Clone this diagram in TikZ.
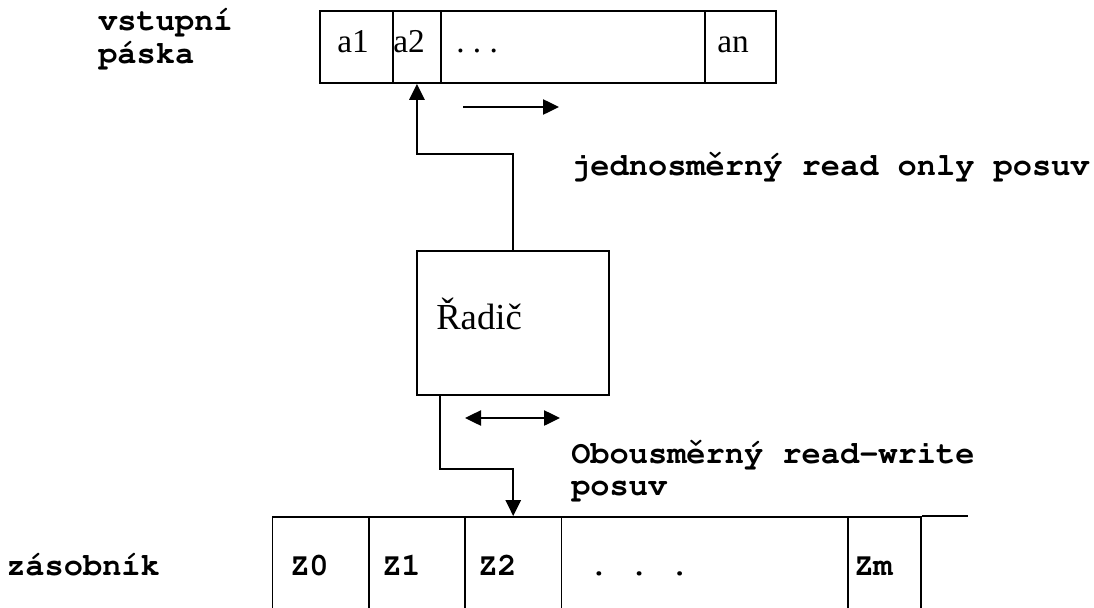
\documentclass[tikz,border=0pt]{standalone}
\usepackage[T1,TU]{fontenc}
\usepackage{fontspec}
\setmainfont{Liberation Serif}
\frenchspacing
\newcommand\courb{\fontencoding{T1}\fontfamily{pcr}\fontseries{b}\fontshape{n}\selectfont}
\usetikzlibrary{arrows.meta}
\begin{document}
\begin{tikzpicture}[x=0.75pt,y=-0.75pt,
  cell/.style={draw,line width=1.4pt,inner sep=0pt,anchor=north west},
  serif/.style={font=\fontsize{25}{30}\selectfont\frenchspacing,anchor=base west,inner sep=0pt},
  bigserif/.style={font=\fontsize{27.5}{32}\selectfont,anchor=base west,inner sep=0pt},
  lbl/.style={font=\courb\fontsize{24}{25}\selectfont\frenchspacing,anchor=base west,inner sep=0pt},
  tip/.style={-{Triangle[length=12pt,width=11.5pt]}},
  conn/.style={line width=1.4pt,tip},
  move/.style={line width=1pt}]
\useasboundingbox (0,0) rectangle (1094,607);
\clip (0,0) rectangle (1094,607);
% input tape
\node[cell,minimum width=54.75pt,minimum height=54pt] (c1) at (319,10) {};
\node[cell,minimum width=36pt,minimum height=54pt] (c2) at (392,10) {};
\node[cell,minimum width=198pt,minimum height=54pt] (c3) at (440,10) {};
\node[cell,minimum width=53.25pt,minimum height=54pt] (c4) at (704,10) {};
\node[serif] (t1) at (337,52) {a1};
\node[serif] (t2) at (393,52) {a2};
\node[serif] (t3) at (456,52) {. . .};
\node[serif] (t4) at (717,52) {an};
% controller
\node[cell,minimum width=144pt,minimum height=108pt] (radic) at (416,250) {};
\node[bigserif] (rt) at (436,329) {Řadič};
% stack
\node[cell,minimum width=72.4pt,minimum height=93pt] (z0) at (271.5,516) {};
\node[cell,minimum width=72pt,minimum height=93pt] (z1) at (368,516) {};
\node[cell,minimum width=72.4pt,minimum height=93pt] (z2) at (464,516) {};
\node[cell,minimum width=214.9pt,minimum height=93pt] (z3) at (560.5,516) {};
\node[cell,minimum width=55.1pt,minimum height=93pt] (z4) at (847,516) {};
\coordinate (zend) at (968,516);
\draw[line width=1.4pt] (z4.north east) -- (zend);
\node[lbl] (tz0) at (290,575) {Z0};
\node[lbl] (tz1) at (382,575) {Z1};
\node[lbl] (tz2) at (478,575) {Z2};
\node[lbl] (tz3) at (589,575) {.\hspace{1.5pt} .\hspace{1.5pt} .};
\node[lbl] (tz4) at (854,575) {Zm};
% labels
\node[lbl] (vs) at (98,30) {vstupn\'{\i}};
\node[lbl] (pa) at (98,63) {p\'aska};
\node[lbl] (jr) at (571,175) {jednosm\v{e}rn\'y read only posuv};
\node[lbl] (ob) at (571,463) {Obousm\v{e}rn\'y read-write};
\node[lbl] (po) at (571,495) {posuv};
\node[lbl] (zs) at (6,575) {z\'asobn\'{\i}k};
% connectors
\draw[conn] (radic.north) -- ++(0,-96) -| (c2.south);
\draw[conn] ([xshift=18pt]radic.south west) -- ++(0,73) -| (z2.north);
% movement arrows
\coordinate (r1) at (463,107);
\coordinate (r2) at (559,107);
\draw[move,tip] (r1) -- (r2);
\coordinate (b1) at (465,418);
\coordinate (b2) at (560,418);
\draw[move,{Triangle[length=12pt,width=11.5pt]}-{Triangle[length=12pt,width=11.5pt]}] (b1) -- (b2);
\end{tikzpicture}
\end{document}
